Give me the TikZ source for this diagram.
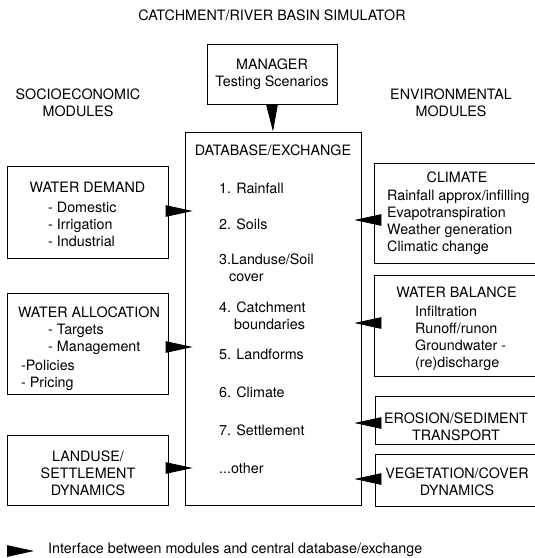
\documentclass[tikz,border=0pt]{standalone}
\usepackage{fontspec}
\setmainfont{TeX Gyre Heros}
\usetikzlibrary{arrows.meta, calc}

\begin{document}
\begin{tikzpicture}[x=1pt, y=-1pt, font=\fontsize{14.3}{17}\selectfont]
  % boxes are given by centre, width and height
  \tikzset{
    box/.style 2 args={draw, line width=0.8pt, inner sep=0pt,
      minimum width=#1, minimum height=#2},
    head/.style={align=center, inner sep=0pt},
    items/.style={align=left, anchor=west, inner sep=0pt},
    iface/.style={line width=0.8pt, -{Triangle[length=27pt, width=11.5pt]}}
  }
  \useasboundingbox (0,0) rectangle (535,558);

  \node[head] (title) at (272,15) {CATCHMENT/RIVER BASIN SIMULATOR};
  \node[head] (socio) at (78,103) {SOCIOECONOMIC\\MODULES};
  \node[head] (envir) at (451,103) {ENVIRONMENTAL\\MODULES};

  % central database
  \node[box={130pt}{60pt}, align=center] (manager) at (272,74)
    {MANAGER\\Testing Scenarios};
  \node[box={176pt}{373pt}] (db) at (273,318.5) {};
  \node[head] (dbtitle) at (273,150) {DATABASE/EXCHANGE};
  \foreach \ty/\txt [count=\i] in {
    188/{1. Rainfall},
    224/{2. Soils},
    268/{3.Landuse/Soil\\\hspace*{10pt}cover},
    316/{4. Catchment\\\hspace*{15pt}boundaries},
    354/{5. Landforms},
    392/{6. Climate},
    430/{7. Settlement},
    468/{...other}
  }{
    \node[items] (item\i) at (219,\ty) {\txt};
  }

  % socioeconomic modules
  \node[box={161pt}{92pt}] (demand) at (87.5,212) {};
  \node[head] (demandhd) at (87.5,187) {WATER DEMAND};
  \node[items] (demandls) at (48,224) {- Domestic\\- Irrigation\\- Industrial};

  \node[box={161pt}{101pt}] (alloc) at (87.5,343.5) {};
  \node[head] (allochd) at (89,312) {WATER ALLOCATION};
  \node[items] (allocls) at (48,339) {- Targets\\- Management};
  \node[items] (allocpl) at (21,375) {-Policies\\- Pricing};

  \node[box={161pt}{70pt}] (landuse) at (87.5,470) {};
  \node[head] (landusehd) at (88,473.5) {LANDUSE/\\SETTLEMENT\\DYNAMICS};

  % environmental modules
  \node[box={163pt}{100pt}] (climate) at (455.5,213) {};
  \node[head] (climatehd) at (457,177) {CLIMATE};
  \node[items] (climatels) at (387,222)
    {Rainfall approx/infilling\\Evapotranspiration\\Weather generation\\Climatic change};

  \node[box={163pt}{101pt}] (balance) at (455.5,325.5) {};
  \node[head] (balancehd) at (456.5,292) {WATER BALANCE};
  \node[items] (balancels) at (415,338)
    {Infiltration\\Runoff/runon\\Groundwater -\\(re)discharge};

  \node[box={162pt}{48pt}] (erosion) at (456,420) {};
  \node[head] (erosionhd) at (456,427) {EROSION/SEDIMENT\\TRANSPORT};

  \node[box={162pt}{52pt}] (vegetation) at (456,480) {};
  \node[head] (vegetationhd) at (457,481.5) {VEGETATION/COVER\\DYNAMICS};

  % interfaces
  \draw[iface] (manager.south) -- (db.north);
  \foreach \mod/\dy in {demand/-1, alloc/3.5, landuse/-2}{
    \draw[iface, shorten <=-3pt, shorten >=-8pt]
      ($(\mod.east)+(0,\dy)$) -- ($(\mod.east -| db.west)+(0,\dy)$);
  }
  \foreach \mod/\dy in {climate/7, balance/-2.5, erosion/3, vegetation/-1}{
    \draw[iface, shorten <=-7pt, shorten >=-7pt]
      ($(\mod.west)+(0,\dy)$) -- ($(\mod.west -| db.east)+(0,\dy)$);
  }

  % key
  \coordinate (keyA) at (7,551);
  \coordinate (keyB) at (34,551);
  \draw[iface] (keyA) -- (keyB);
  \node[items] (keytext) at (48,550)
    {Interface between modules and central database/exchange};
\end{tikzpicture}
\end{document}
